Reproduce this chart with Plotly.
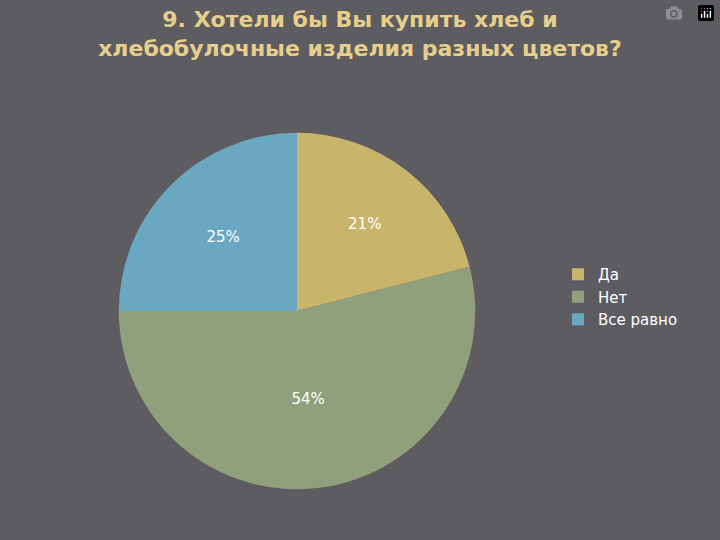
import plotly.graph_objects as go

labels = ["Да", "Нет", "Все равно"]
values = [21, 54, 25]
colors = ["#c9b46c", "#91a07c", "#6aa8c2"]

fig = go.Figure(go.Pie(
    labels=labels,
    values=values,
    sort=False,
    direction="clockwise",
    marker=dict(colors=colors),
    texttemplate="%{percent:.0%}",
    textposition="inside",
    insidetextorientation="horizontal",
    textfont=dict(color="white", size=15, family="DejaVu Sans"),
    domain=dict(x=[0.165, 0.66], y=[0.094, 0.754]),
))

fig.update_layout(
    width=720, height=540,
    margin=dict(l=0, r=0, t=0, b=0),
    paper_bgcolor="#5d5d61",
    title=dict(
        text="<b>9. Хотели бы Вы купить хлеб и<br>хлебобулочные изделия разных цветов?</b>",
        x=0.5, y=0.95, xanchor="center", yanchor="top",
        font=dict(family="DejaVu Sans", size=22, color="#e6cf8c"),
    ),
    legend=dict(
        x=0.775, y=0.45, xanchor="left", yanchor="middle",
        font=dict(family="DejaVu Sans", size=15, color="white"),
        bgcolor="rgba(0,0,0,0)",
    ),
)

fig.write_html("out.html", post_script="document.body.style.margin='0';")
